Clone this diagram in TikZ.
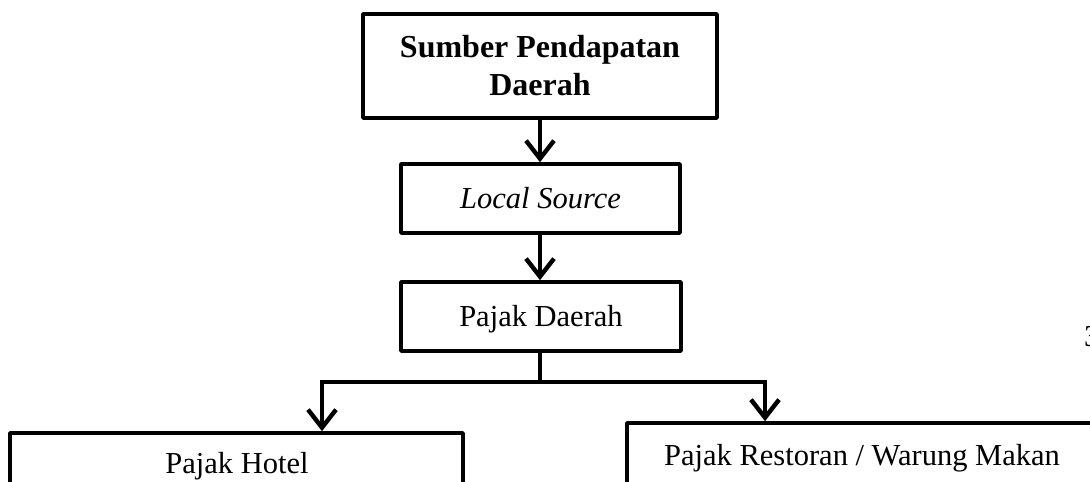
\documentclass[tikz,border=0pt]{standalone}
\usepackage{fontspec}
\setmainfont{Liberation Serif}
\usetikzlibrary{arrows.meta}
\begin{document}
\begin{tikzpicture}[x=1pt,y=-1pt,
  box/.style={draw=black,line width=3.6pt,rectangle,inner sep=0pt,line join=round},
  txt/.style={inner sep=0pt,font=\fontsize{30.5}{36}\selectfont},
  conn/.style={line width=3.6pt,-{Straight Barb[length=18pt,width=28pt,line width=4.4pt]}},
  line/.style={line width=3.6pt,line join=miter}]
\useasboundingbox (0,0) rectangle (1090,482);
\clip (0,0) rectangle (1090,482);
\node[box,minimum width=354pt,minimum height=104pt] (top) at (540,66) {};
\node[txt,font=\fontsize{32}{38}\selectfont\bfseries,align=center,anchor=base] (toptxt) at (540,95) {Sumber Pendapatan\\Daerah};
\node[box,minimum width=279pt,minimum height=69pt] (local) at (540.5,198.5) {};
\node[txt,anchor=base] (localtxt) at (540.5,208) {\itshape Local Source};
\node[box,minimum width=280pt,minimum height=69pt] (pajak) at (541,316.5) {};
\node[txt,anchor=base] (pajaktxt) at (541,326) {Pajak Daerah};
\node[box,minimum width=453pt,minimum height=200pt] (hotel) at (236.5,533) {};
\node[txt,anchor=base] (hoteltxt) at (237,473) {Pajak Hotel};
\node[box,minimum width=503pt,minimum height=200pt] (resto) at (878.5,523) {};
\node[txt,anchor=base] (restotxt) at (862,465) {Pajak Restoran / Warung Makan};
\node[txt,anchor=base west] (pg) at (1084,346) {3};
\coordinate (split) at (540,382);
\draw[conn] (top.south -| 540,0) -- (local.north -| 540,0);
\draw[conn] (local.south -| 540,0) -- (pajak.north -| 540,0);
\draw[line] (pajak.south -| 540,0) -- (split);
\draw[conn] (split) -- (322,382) -- (hotel.north -| 322,0);
\draw[conn] (split) -- (765,382) -- (resto.north -| 765,0);
\end{tikzpicture}
\end{document}
